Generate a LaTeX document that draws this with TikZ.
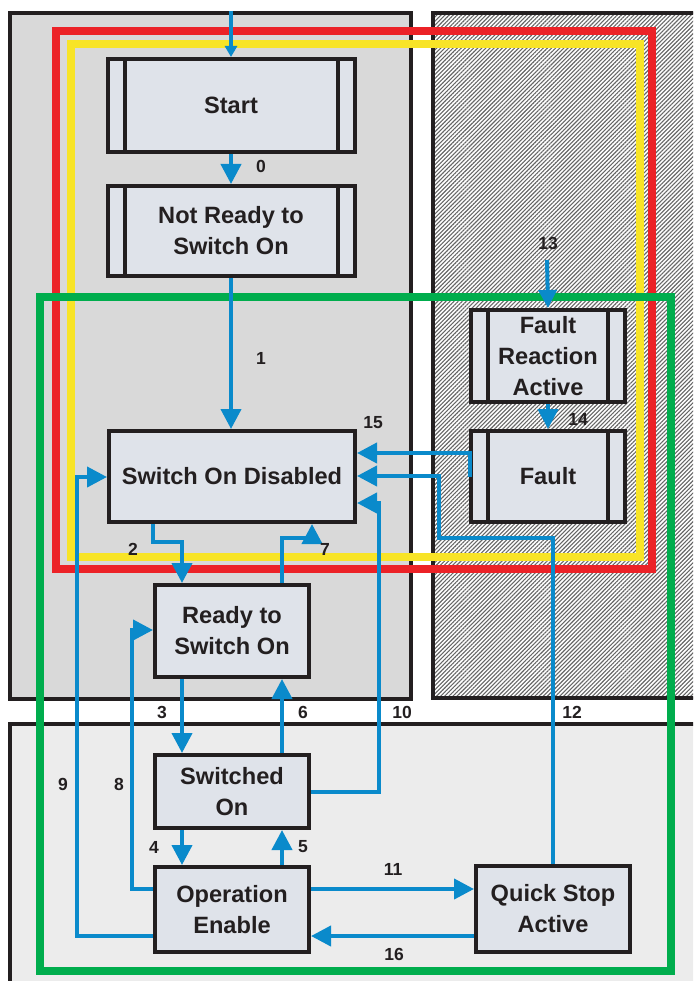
\documentclass[tikz,border=0pt]{standalone}
\usepackage{fontspec}
\setmainfont{Liberation Sans}
\usetikzlibrary{arrows.meta,patterns.meta}
\definecolor{ink}{HTML}{231F20}
\definecolor{flow}{HTML}{0A8ACB}
\definecolor{fred}{HTML}{EC2227}
\definecolor{fyellow}{HTML}{F8E427}
\definecolor{fgreen}{HTML}{00AD4D}
\definecolor{panelA}{HTML}{D9D9D9}
\definecolor{panelB}{HTML}{ECECEC}
\definecolor{boxfill}{HTML}{DFE3EA}
\tikzset{
  panel/.style={draw=ink, line width=4pt},
  frame/.style={line width=8pt},
  statebox/.style={draw=ink, fill=boxfill, line width=4pt, inner sep=0pt, align=center,
    text=ink, font=\bfseries\fontsize{23.6}{31}\selectfont, minimum width=154pt},
  barbox/.style={statebox, path picture={
    \draw[ink, line width=4pt]
      ([xshift=17pt]path picture bounding box.north west) -- ([xshift=17pt]path picture bounding box.south west)
      ([xshift=-17pt]path picture bounding box.north east) -- ([xshift=-17pt]path picture bounding box.south east);}},
  conn/.style={draw=flow, line width=4pt, -{Triangle[length=20pt 0 0, width=20pt 0 0]}},
  connsmall/.style={draw=flow, line width=4pt, -{Triangle[length=11pt 0 0, width=12pt 0 0]}},
  lbl/.style={text=ink, font=\bfseries\fontsize{17.5}{17.5}\selectfont, inner sep=0pt}
}
\begin{document}
\begin{tikzpicture}[x=1pt, y=-1pt]
\useasboundingbox (0,0) rectangle (693,981);
\clip (0,0) rectangle (693,981);
% panels
\filldraw[panel, fill=panelA] (10,13) rectangle (411,699);
\fill[white] (433,13) rectangle (700,698);
\fill[pattern={Lines[angle=45, distance=2.9pt, line width=1.1pt]}, pattern color=black!60] (433,13) rectangle (700,698);
\draw[panel] (700,13) -- (433,13) -- (433,698) -- (700,698);
\filldraw[panel, fill=panelB] (10,990) -- (10,724) -- (700,724) -- (700,990);
% frames
\draw[frame, fred] (56,31) rectangle (652,569);
\draw[frame, fyellow] (71,44) rectangle (640,557);
\draw[frame, fgreen] (40,297) rectangle (671,971);
% states
\node[barbox, minimum width=247pt, minimum height=93pt] (start) at (231,105.5) {Start};
\node[barbox, minimum width=247pt, minimum height=90pt] (nr) at (231,231) {Not Ready to\\Switch On};
\node[statebox, minimum width=246pt, minimum height=91pt] (sod) at (232,476.5) {Switch On Disabled};
\node[barbox, minimum height=92pt] (fra) at (548,356) {Fault\\Reaction\\Active};
\node[barbox, minimum height=91pt] (fault) at (548,476.5) {Fault};
\node[statebox, minimum height=92pt] (ready) at (232,631) {Ready to\\Switch On};
\node[statebox, minimum height=73pt] (swon) at (232,791.5) {Switched\\On};
\node[statebox, minimum height=85pt] (open) at (232,909.5) {Operation\\Enable};
\node[statebox, minimum height=86pt] (qsa) at (553,909) {Quick Stop\\Active};
% connectors
\coordinate (in0) at (231,11);
\coordinate (in13) at (547,260);
\draw[connsmall] (in0) -- (start.north);
\draw[conn] (start.south) -- (nr.north);
\draw[conn] (nr.south) -- (231,0 |- sod.north);
\draw[conn] (153,0 |- sod.south) -- (153,542) -- (182,542) -- (182,0 |- ready.north);
\draw[conn] (282,0 |- ready.north) -- (282,538) -- (312,538) -- (312,0 |- sod.south);
\draw[conn] (182,0 |- ready.south) -- (182,0 |- swon.north);
\draw[conn] (282,0 |- swon.north) -- (282,0 |- ready.south);
\draw[conn] (182,0 |- swon.south) -- (182,0 |- open.north);
\draw[conn] (282,0 |- open.north) -- (282,0 |- swon.south);
\draw[conn] (open.west |- 0,889) -- (132,889) -- (132,630) -- (ready.west |- 0,630);
\draw[conn] (open.west |- 0,936) -- (77,936) -- (77,477) -- (sod.west |- 0,477);
\draw[conn] (swon.east |- 0,792) -- (379,792) -- (379,503) -- (sod.east |- 0,503);
\draw[conn] (open.east |- 0,889) -- (qsa.west |- 0,889);
\draw[conn] (qsa.west |- 0,936) -- (open.east |- 0,936);
\draw[conn] (553,0 |- qsa.north) -- (553,538) -- (439,538) -- (439,476) -- (sod.east |- 0,476);
\draw[conn] ([xshift=1pt]fault.west) -- ([xshift=1pt]fault.west |- 0,453) -- (sod.east |- 0,453);
\draw[conn, -{Triangle[length=18pt 0 0, width=18pt 0 0]}] (in13) -- (fra.north);
\draw[conn] (fra.south) -- (fault.north);
% labels
\node[lbl] (l0) at (261,166) {0};
\node[lbl] (l1) at (261,358) {1};
\node[lbl] (l2) at (133,549) {2};
\node[lbl] (l3) at (162,712) {3};
\node[lbl] (l4) at (154,847) {4};
\node[lbl] (l5) at (303,847) {5};
\node[lbl] (l6) at (303,712) {6};
\node[lbl] (l7) at (325,549) {7};
\node[lbl] (l8) at (119,784) {8};
\node[lbl] (l9) at (63,784) {9};
\node[lbl] (l10) at (402,712) {10};
\node[lbl] (l11) at (393,869) {11};
\node[lbl] (l12) at (572,712) {12};
\node[lbl] (l13) at (548,243) {13};
\node[lbl] (l14) at (578,419) {14};
\node[lbl] (l15) at (373,423) {15};
\node[lbl] (l16) at (394,954) {16};
\end{tikzpicture}
\end{document}
